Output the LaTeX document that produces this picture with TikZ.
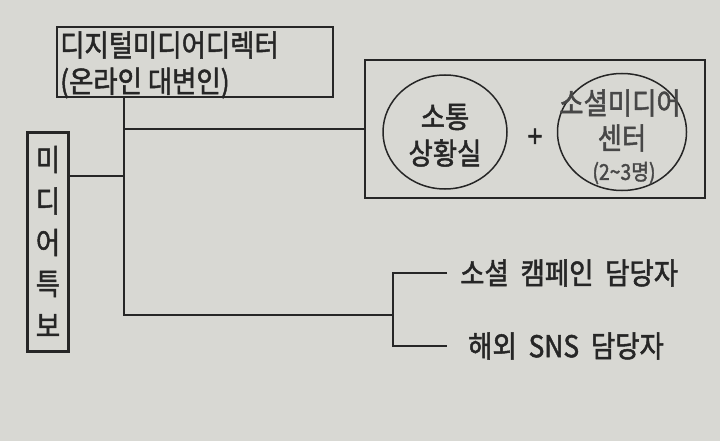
\documentclass[tikz,border=0pt]{standalone}
\usepackage{fontspec}
\setmainfont{Noto Sans CJK KR}[FakeStretch=0.88,FakeBold=1.6]
\usetikzlibrary{shapes.geometric,positioning,calc}
\definecolor{paper}{RGB}{216,216,211}
\definecolor{ink}{RGB}{38,38,38}
\begin{document}
\begin{tikzpicture}[x=1pt,y=-1pt,
  box/.style={rectangle,draw=ink,line width=2.2pt,inner sep=0pt},
  oval/.style={ellipse,draw=ink,line width=1.5pt,inner sep=0pt},
  big/.style={font=\fontsize{30}{40}\selectfont,text=ink},
  wire/.style={draw=ink,line width=2pt}]
\fill[paper] (0,0) rectangle (720,441);
\useasboundingbox (0,0) rectangle (720,441);
% boxes
\node[box,minimum width=276pt,minimum height=70pt] (top) at (195,62) {};
\node[big,anchor=west,inner sep=0pt] (dir) at (60,45) {디지털미디어디렉터};
\node[big,anchor=west,inner sep=0pt] (spk) at (60,83) {(온라인 대변인)};
\node[box,minimum width=41pt,minimum height=219pt] (side) at (48,242) {};
\foreach \ch [count=\i] in {미,디,어,특,보}
  \node[big,inner sep=0pt] (side\i) at (48,118+41.5*\i) {\ch};
\node[box,minimum width=340pt,minimum height=138pt] (grp) at (535,129) {};
\node[oval,minimum width=124pt,minimum height=114pt] (room) at (445,132) {};
\node[big,inner sep=0pt] (room1) at (445,117) {소통};
\node[big,inner sep=0pt] (room2) at (445,153) {상황실};
\node[big] (plus) at (535,138) {+};
\node[oval,minimum width=129pt,minimum height=117pt] (center) at (622,132) {};
\node[big,text=ink!85,inner sep=0pt] (center1) at (620,103) {소셜미디어};
\node[big,text=ink!85,inner sep=0pt] (center2) at (622,138) {센터};
\node[font=\fontsize{22}{24}\selectfont,text=ink!85,inner sep=0pt] (center3) at (624,173) {(2\textasciitilde 3명)};
% staff
\node[big,anchor=west,inner sep=0pt] (camp) at (460,273) {소셜\ \ 캠페인\ \ 담당자};
\node[big,anchor=west,inner sep=0pt] (sns) at (468,346) {해외\ \ SNS\ \ 담당자};
\coordinate (trunk) at (124,315);
\coordinate (fork) at (393,315);
\coordinate (campend) at ($(camp.west)+(-13,0)$);
\coordinate (sidejoin) at ($(side.north east)!0.2!(side.south east)$);
% connectors
\draw[wire] (top.south -| trunk) -- (trunk) -- (fork);
\draw[wire] (sidejoin) -- (sidejoin -| trunk);
\draw[wire] (grp.west -| trunk) -- (grp.west);
\draw[wire] (campend) -| (fork) |- (sns.west -| campend);
\end{tikzpicture}
\end{document}
